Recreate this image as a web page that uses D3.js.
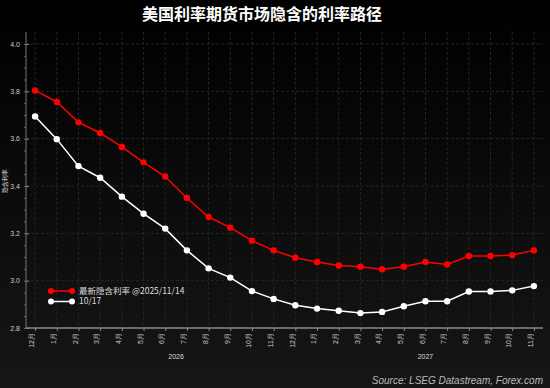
<!DOCTYPE html>
<html>
<head>
<meta charset="utf-8">
<script src="https://cdn.jsdelivr.net/npm/d3@7"></script>
<style>
  body { margin: 0; background: #000; }
  svg { display: block; font-family: "Noto Sans CJK SC", "Liberation Sans", sans-serif; }
</style>
</head>
<body>
<div class="d3_canvas"></div>
<script>
var width = 550, height = 388,
    margin = {top: 32, right: 7, bottom: 60, left: 26};

// months on the x axis (Dec 2025 .. Nov 2027)
var months = ["12月","1月","2月","3月","4月","5月","6月","7月","8月","9月","10月","11月",
              "12月","1月","2月","3月","4月","5月","6月","7月","8月","9月","10月","11月"];
var years = [{label: "2026", from: 1, to: 12}, {label: "2027", from: 13, to: 23}];

var latest = [3.804, 3.755, 3.669, 3.624, 3.565, 3.500, 3.440, 3.349, 3.269, 3.224, 3.169, 3.128,
              3.097, 3.079, 3.064, 3.059, 3.048, 3.059, 3.079, 3.068, 3.104, 3.104, 3.108, 3.128];
var oct17 = [3.694, 3.598, 3.484, 3.435, 3.355, 3.283, 3.220, 3.128, 3.052, 3.013, 2.956, 2.923,
             2.896, 2.882, 2.873, 2.863, 2.868, 2.892, 2.913, 2.913, 2.954, 2.954, 2.959, 2.977];
var yTicks = [2.8, 3.0, 3.2, 3.4, 3.6, 3.8, 4.0];

var series = [
  {name: "最新隐含利率 @2025/11/14", values: latest, color: "#ff0000"},
  {name: "10/17", values: oct17, color: "#ffffff"}
];

var svg = d3.select(".d3_canvas")
  .append("svg")
    .attr("width", width)
    .attr("height", height);

var defs = svg.append("defs");
var bg = defs.append("linearGradient").attr("id", "bg")
    .attr("x1", 0).attr("y1", 0).attr("x2", 0).attr("y2", 1);
bg.append("stop").attr("offset", "0%").attr("stop-color", "#000");
bg.append("stop").attr("offset", "100%").attr("stop-color", "#161616");

svg.append("rect").attr("width", width).attr("height", height).attr("fill", "url(#bg)");

var x = d3.scalePoint()
    .domain(d3.range(months.length))
    .range([margin.left, width - margin.right])
    .padding(0.42);

var y = d3.scaleLinear()
    .domain([2.8, 4.0])
    .range([height - margin.bottom, margin.top + 12]);

// grid
var g = svg.append("g");
g.selectAll(".vgrid")
  .data(d3.range(months.length))
  .enter().append("line")
    .attr("x1", function(d) { return x(d); })
    .attr("x2", function(d) { return x(d); })
    .attr("y1", margin.top)
    .attr("y2", height - margin.bottom)
    .style("stroke", "#252525")
    .style("stroke-dasharray", "3,2")
    .style("stroke-width", 1);

g.selectAll(".hgrid")
  .data(yTicks)
  .enter().append("line")
    .attr("x1", margin.left)
    .attr("x2", width - margin.right)
    .attr("y1", function(d) { return y(d); })
    .attr("y2", function(d) { return y(d); })
    .style("stroke", "#252525")
    .style("stroke-dasharray", "3,2")
    .style("stroke-width", 1);

// y axis
var yAxis = svg.append("g")
    .attr("transform", "translate(" + margin.left + ",0)")
    .call(d3.axisLeft(y).tickValues(yTicks).tickSize(-3).tickPadding(6)
      .tickFormat(d3.format(".1f")));
yAxis.select(".domain").attr("d", "M0," + margin.top + "V" + (height - margin.bottom))
    .style("stroke", "#777");
yAxis.selectAll(".tick line").style("stroke", "#888");
yAxis.selectAll(".tick text").style("fill", "#ccc").style("font-size", "7px")
    .style("font-family", "Liberation Sans, sans-serif");

svg.append("g")
    .attr("transform", "translate(" + margin.left + ",0)")
    .call(d3.axisLeft(y).ticks(30).tickSize(2).tickFormat(""))
  .call(function(s) { s.select(".domain").remove(); })
  .selectAll(".tick line").style("stroke", "#666");

svg.append("text")
    .attr("transform", "translate(7," + y(3.42) + ") rotate(-90)")
    .attr("text-anchor", "middle")
    .style("fill", "#ddd")
    .style("font-size", "6px")
    .text("隐含利率");

// x axis
var xAxis = svg.append("g")
    .attr("transform", "translate(0," + (height - margin.bottom) + ")")
    .call(d3.axisBottom(x).tickSize(3).tickFormat(function(i) { return months[i]; }));
xAxis.select(".domain").attr("d", "M" + margin.left + ",0H" + (width - margin.right))
    .style("stroke", "#888").style("stroke-width", 1.5);
xAxis.selectAll(".tick line").style("stroke", "#888");
xAxis.selectAll(".tick text")
    .attr("transform", "rotate(-90)")
    .attr("text-anchor", "end")
    .attr("x", -5)
    .attr("y", -3.5)
    .attr("dy", "0.32em")
    .style("fill", "#ccc")
    .style("font-size", "7px");

svg.selectAll(".year")
  .data(years)
  .enter().append("text")
    .attr("x", function(d) { return (x(d.from) + x(d.to)) / 2; })
    .attr("y", 359)
    .attr("text-anchor", "middle")
    .style("fill", "#ddd")
    .style("font-size", "7px")
    .style("font-family", "Liberation Sans, sans-serif")
    .text(function(d) { return d.label; });

// lines
var line = d3.line()
    .x(function(d, i) { return x(i); })
    .y(function(d) { return y(d); });

series.forEach(function(s) {
  svg.append("path")
      .datum(s.values)
      .attr("d", line)
      .style("fill", "none")
      .style("stroke", s.color)
      .style("stroke-width", 1.5);
  svg.selectAll(null)
    .data(s.values)
    .enter().append("circle")
      .attr("cx", function(d, i) { return x(i); })
      .attr("cy", function(d) { return y(d); })
      .attr("r", 3.2)
      .style("fill", s.color);
});

// legend
var legend = svg.selectAll(".legend")
  .data(series)
  .enter().append("g")
    .attr("transform", function(d, i) { return "translate(51," + (291 + i * 10.5) + ")"; });
legend.append("line").attr("x1", 0).attr("x2", 21)
    .style("stroke", function(d) { return d.color; }).style("stroke-width", 1.5);
legend.append("circle").attr("cx", 0).attr("r", 3).style("fill", function(d) { return d.color; });
legend.append("circle").attr("cx", 21).attr("r", 3).style("fill", function(d) { return d.color; });
legend.append("text")
    .attr("x", 28).attr("dy", "0.35em")
    .style("fill", "#ddd")
    .style("font-size", "8.5px")
    .text(function(d) { return d.name; });

// title and source
svg.append("text")
    .attr("x", 262).attr("y", 20)
    .attr("text-anchor", "middle")
    .style("fill", "#fff")
    .style("font-size", "16px")
    .style("font-weight", "bold")
    .text("美国利率期货市场隐含的利率路径");

svg.append("text")
    .attr("x", 543).attr("y", 384)
    .attr("text-anchor", "end")
    .style("fill", "#bbb")
    .style("font-size", "10px")
    .style("font-style", "italic")
    .style("font-family", "Liberation Sans, sans-serif")
    .text("Source: LSEG Datastream, Forex.com");
</script>
</body>
</html>
